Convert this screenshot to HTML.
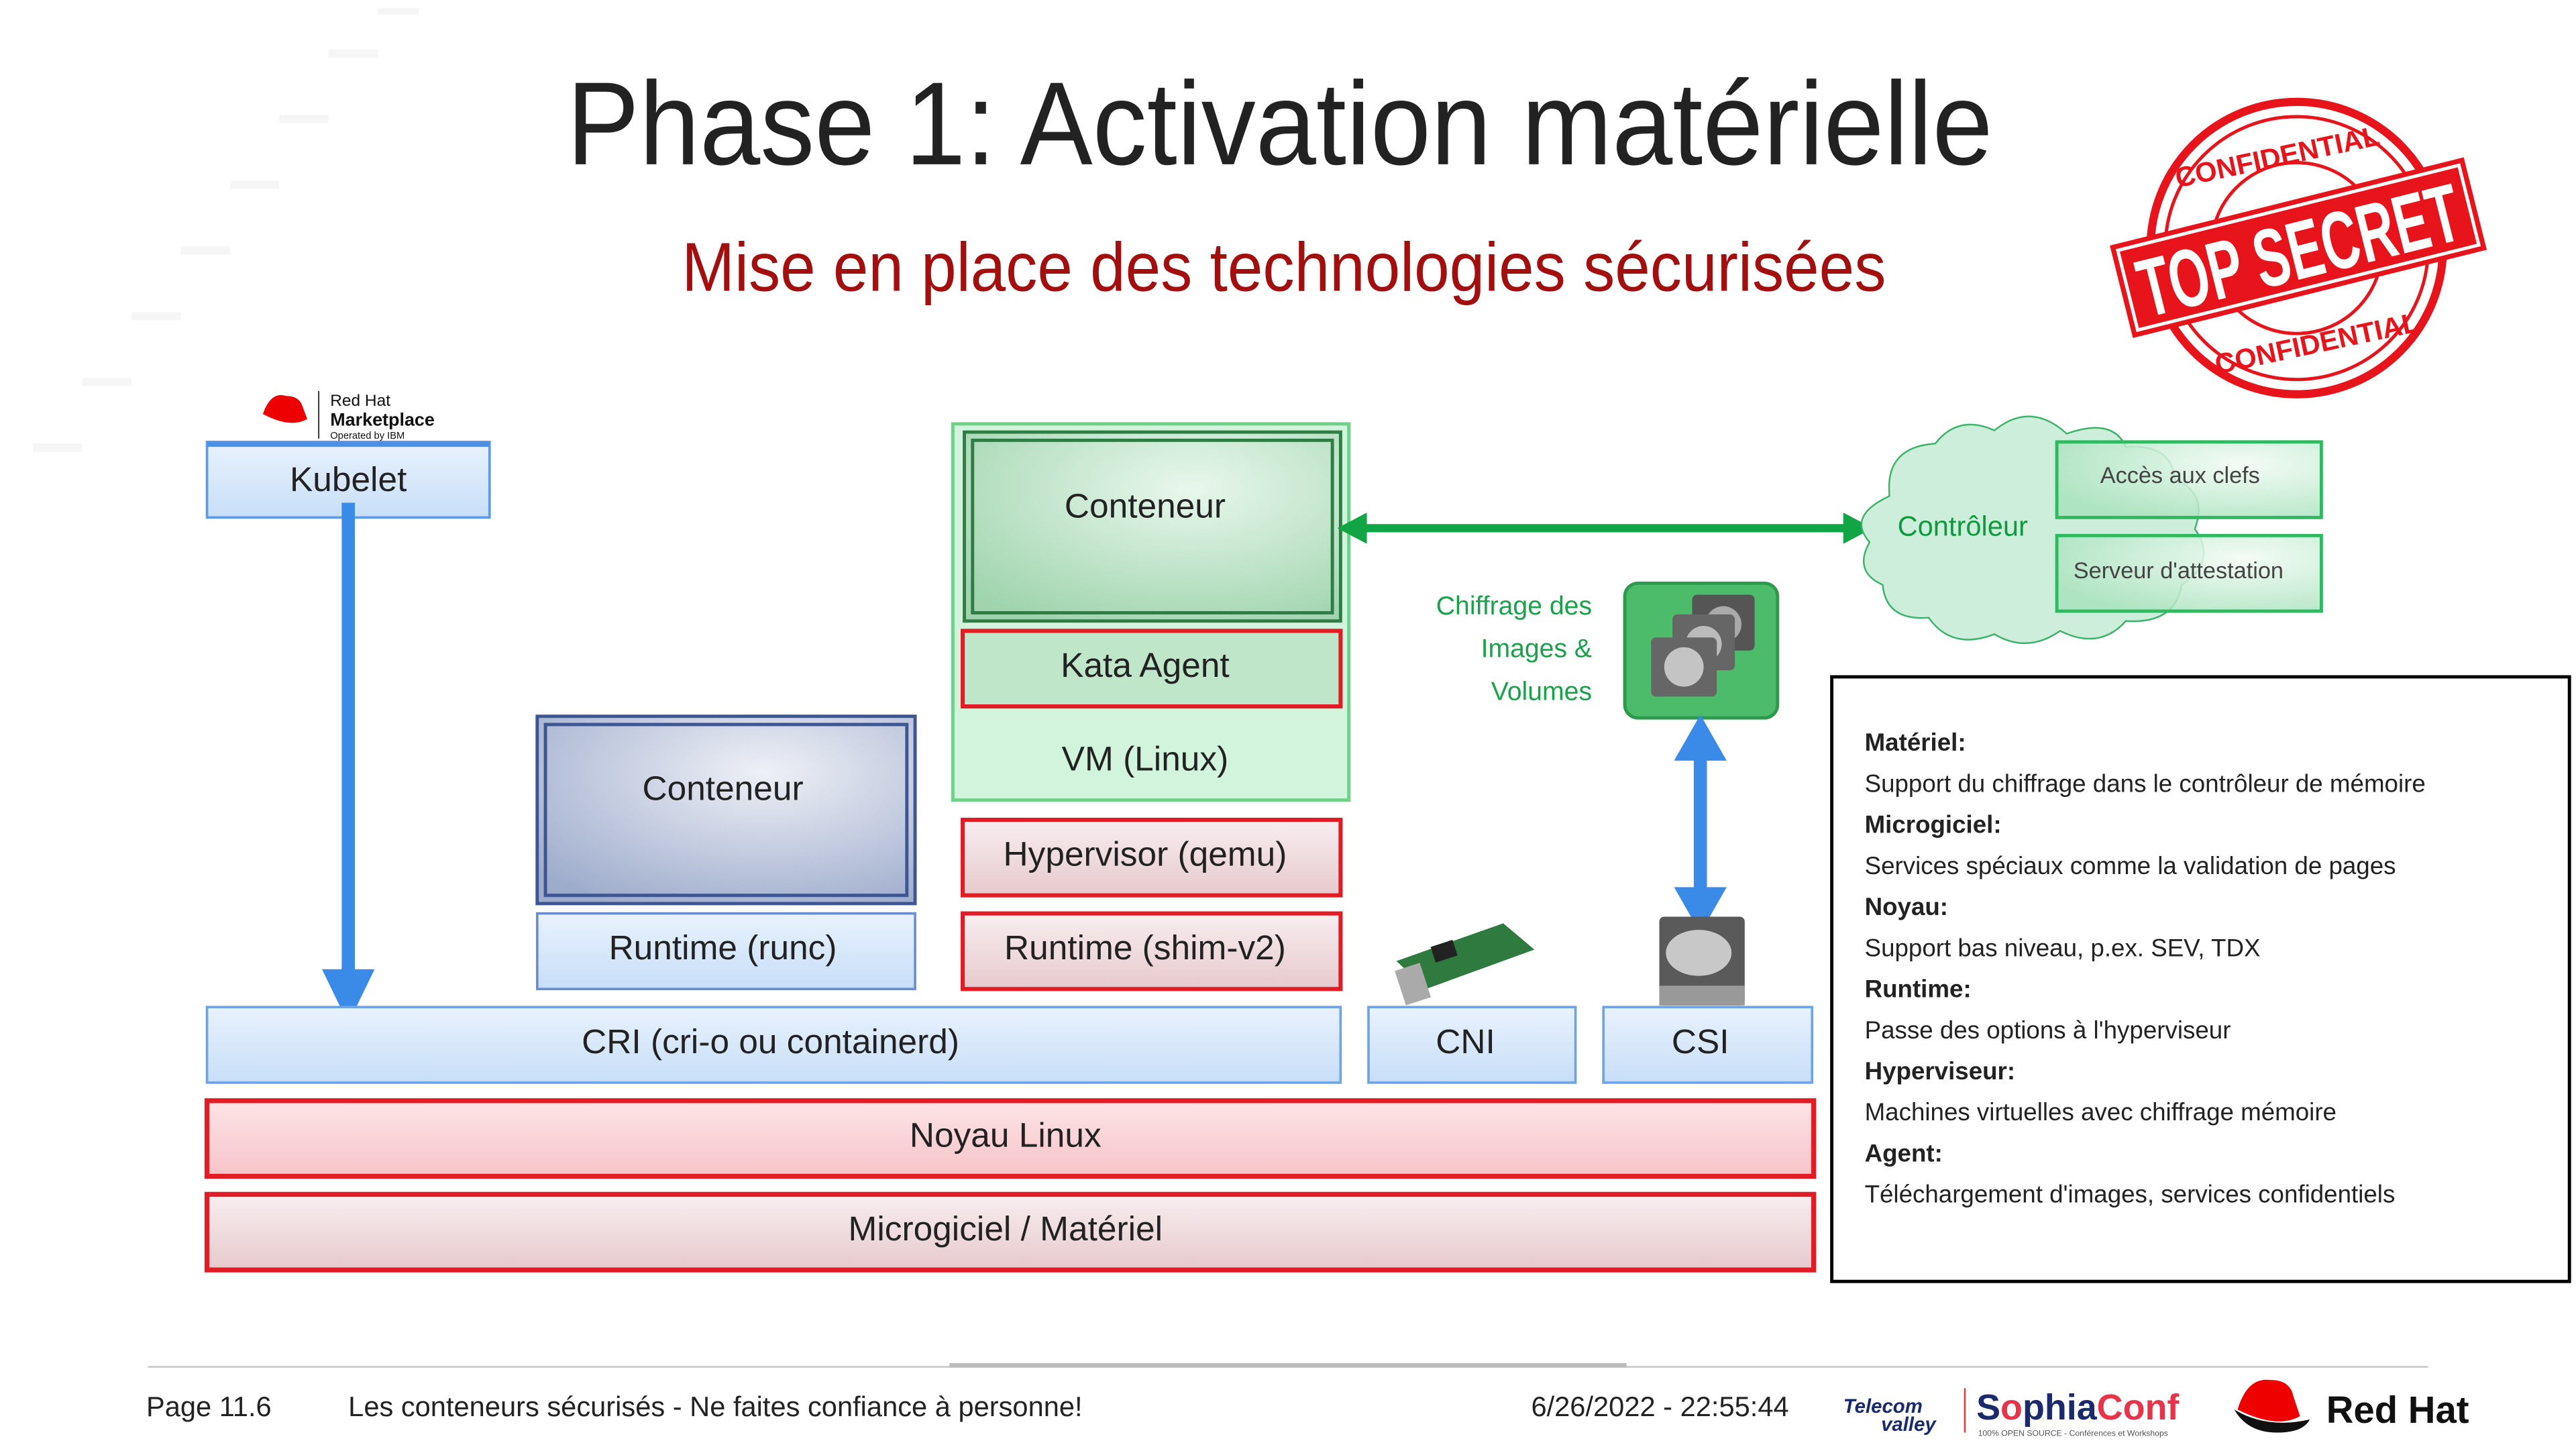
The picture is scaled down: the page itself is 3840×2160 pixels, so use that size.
<!DOCTYPE html>
<html><head><meta charset="utf-8"><style>
html,body{margin:0;padding:0;background:#fff;}
svg{display:block}
text{font-family:"Liberation Sans",sans-serif;}
</style></head><body>
<svg width="3840" height="2160" viewBox="0 0 1568 882" xmlns="http://www.w3.org/2000/svg">
<defs>
<linearGradient id="blu" x1="0" y1="0" x2="0" y2="1"><stop offset="0" stop-color="#e9f2fd"/><stop offset="1" stop-color="#c7def8"/></linearGradient>
<linearGradient id="pnk" x1="0" y1="0" x2="0" y2="1"><stop offset="0" stop-color="#fde4e6"/><stop offset="1" stop-color="#f6c3c8"/></linearGradient>
<linearGradient id="pnk2" x1="0" y1="0" x2="0" y2="1"><stop offset="0" stop-color="#f8eef0"/><stop offset="1" stop-color="#e6c9cc"/></linearGradient>
<radialGradient id="grn" cx="0.6" cy="0.3" r="0.8"><stop offset="0" stop-color="#e8f7ec"/><stop offset="1" stop-color="#9fd4ad"/></radialGradient>
<radialGradient id="gbx" cx="0.7" cy="0.3" r="0.8"><stop offset="0" stop-color="#f2fbf4"/><stop offset="1" stop-color="#a8e2bc"/></radialGradient>
<radialGradient id="bgr" cx="0.6" cy="0.3" r="0.8"><stop offset="0" stop-color="#eef0f6"/><stop offset="1" stop-color="#9eaccc"/></radialGradient>
</defs>
<g fill="#f6f6f6">
<rect x="230" y="5" width="25" height="4"/><rect x="200" y="30" width="30" height="5"/><rect x="170" y="70" width="30" height="5"/><rect x="140" y="110" width="30" height="5"/><rect x="110" y="150" width="30" height="5"/><rect x="80" y="190" width="30" height="5"/><rect x="50" y="230" width="30" height="5"/><rect x="20" y="270" width="30" height="5"/>
</g>
<text x="345" y="100" font-size="72" textLength="868" lengthAdjust="spacingAndGlyphs" fill="#222">Phase 1: Activation matérielle</text>
<text x="415" y="177" font-size="42" textLength="733" lengthAdjust="spacingAndGlyphs" fill="#a30f0f">Mise en place des technologies sécurisées</text>
<g fill="none" stroke="#e8141c">
<circle cx="1398" cy="151" r="89" stroke-width="5"/>
<circle cx="1398" cy="151" r="80" stroke-width="2"/>
<circle cx="1398" cy="151" r="52" stroke-width="2"/>
</g>
<text x="1398" y="100" font-size="17" font-weight="bold" fill="#e8141c" text-anchor="middle" transform="rotate(-12 1398 151)">CONFIDENTIAL</text>
<text x="1398" y="216" font-size="17" font-weight="bold" fill="#e8141c" text-anchor="middle" transform="rotate(-12 1398 151)">CONFIDENTIAL</text>
<g transform="rotate(-14 1398 151)">
<rect x="1288" y="122" width="222" height="58" fill="#e8141c"/>
<rect x="1292" y="126" width="214" height="50" fill="none" stroke="#fff" stroke-width="2"/>
<text x="1399" y="170" font-size="50" font-weight="bold" fill="#fff" text-anchor="middle" textLength="200" lengthAdjust="spacingAndGlyphs">TOP SECRET</text>
</g>
<path d="M160 252 q5 -14 14 -11 q8 0 10 6 l3 8 q-10 6 -27 -3z" fill="#e00"/>
<line x1="194" y1="238" x2="194" y2="267" stroke="#333" stroke-width="0.8"/>
<text x="201" y="247" font-size="10" fill="#111">Red Hat</text>
<text x="201" y="259" font-size="11" font-weight="bold" fill="#111">Marketplace</text>
<text x="201" y="267" font-size="6" fill="#111">Operated by IBM</text>
<rect x="126" y="269" width="172" height="46" fill="url(#blu)" stroke="#5c9ae6" stroke-width="1.5"/>
<rect x="126" y="269" width="172" height="3" fill="#4a8fe8"/>
<text x="212" y="299" font-size="21" text-anchor="middle" fill="#222">Kubelet</text>
<rect x="208" y="306" width="8" height="290" fill="#3a8ae8"/>
<polygon points="196,590 228,590 212,623" fill="#3a8ae8"/>
<rect x="580" y="258" width="241" height="229" fill="#d3f4dc" stroke="#6fd08a" stroke-width="2"/>
<rect x="587" y="263" width="229" height="115" fill="url(#grn)" stroke="#2e7d45" stroke-width="2"/>
<rect x="592" y="268" width="219" height="105" fill="none" stroke="#2e7d45" stroke-width="2"/>
<text x="697" y="315" font-size="21" text-anchor="middle" fill="#222">Conteneur</text>
<rect x="586" y="384" width="230" height="46" fill="#bfe6c8" stroke="#e21c24" stroke-width="2.5"/>
<text x="697" y="412" font-size="21" text-anchor="middle" fill="#222">Kata Agent</text>
<text x="697" y="469" font-size="21" text-anchor="middle" fill="#222">VM (Linux)</text>
<rect x="586" y="499" width="230" height="46" fill="url(#pnk2)" stroke="#e21c24" stroke-width="2.5"/>
<text x="697" y="527" font-size="21" text-anchor="middle" fill="#222">Hypervisor (qemu)</text>
<rect x="586" y="556" width="230" height="46" fill="url(#pnk2)" stroke="#e21c24" stroke-width="2.5"/>
<text x="697" y="584" font-size="21" text-anchor="middle" fill="#222">Runtime (shim-v2)</text>
<rect x="327" y="436" width="230" height="114" fill="url(#bgr)" stroke="#3e5593" stroke-width="2"/>
<rect x="332" y="441" width="220" height="104" fill="none" stroke="#3e5593" stroke-width="2"/>
<text x="440" y="487" font-size="21" text-anchor="middle" fill="#222">Conteneur</text>
<rect x="327" y="556" width="230" height="46" fill="url(#blu)" stroke="#6a8fd0" stroke-width="1.5"/>
<text x="440" y="584" font-size="21" text-anchor="middle" fill="#222">Runtime (runc)</text>
<rect x="126" y="613" width="690" height="46" fill="url(#blu)" stroke="#6ea4e6" stroke-width="1.5"/>
<text x="469" y="641" font-size="21" text-anchor="middle" fill="#222">CRI (cri-o ou containerd)</text>
<rect x="833" y="613" width="126" height="46" fill="url(#blu)" stroke="#6ea4e6" stroke-width="1.5"/>
<text x="892" y="641" font-size="21" text-anchor="middle" fill="#222">CNI</text>
<rect x="976" y="613" width="127" height="46" fill="url(#blu)" stroke="#6ea4e6" stroke-width="1.5"/>
<text x="1035" y="641" font-size="21" text-anchor="middle" fill="#222">CSI</text>
<rect x="126" y="670" width="978" height="46" fill="url(#pnk)" stroke="#e21c24" stroke-width="3"/>
<text x="612" y="698" font-size="21" text-anchor="middle" fill="#222">Noyau Linux</text>
<rect x="126" y="727" width="978" height="46" fill="url(#pnk2)" stroke="#e21c24" stroke-width="3"/>
<text x="612" y="755" font-size="21" text-anchor="middle" fill="#222">Microgiciel / Matériel</text>
<rect x="828" y="319" width="298" height="5" fill="#12a545"/>
<polygon points="814,321.5 832,312 832,331" fill="#12a545"/>
<polygon points="1140,321.5 1122,312 1122,331" fill="#12a545"/>
<path d="M1150 300 q-2 -28 28 -30 q14 -18 36 -8 q22 -18 44 2 q28 -10 36 8 q28 -2 30 20 q20 8 12 30 q14 20 -8 34 q-4 24 -34 22 q-16 18 -40 6 q-20 14 -40 2 q-26 10 -40 -10 q-26 2 -28 -20 q-18 -8 -8 -26 q-14 -16 12 -28z" fill="#cdeedb" stroke="#3cb36a" stroke-width="1"/>
<text x="1155" y="326" font-size="17" fill="#109a40">Contrôleur</text>
<rect x="1252" y="269" width="161" height="46" fill="url(#gbx)" fill-opacity="0.85" stroke="#2fba62" stroke-width="2"/>
<text x="1327" y="294" font-size="14" text-anchor="middle" fill="#444">Accès aux clefs</text>
<rect x="1252" y="326" width="161" height="46" fill="url(#gbx)" fill-opacity="0.85" stroke="#2fba62" stroke-width="2"/>
<text x="1326" y="352" font-size="14" text-anchor="middle" fill="#444">Serveur d'attestation</text>
<g font-size="16" fill="#16a34a" text-anchor="end">
<text x="969" y="374">Chiffrage des</text>
<text x="969" y="400">Images &amp;</text>
<text x="969" y="426">Volumes</text>
</g>
<rect x="989" y="355" width="93" height="82" rx="8" fill="#4cbb6a" stroke="#2e9a4e" stroke-width="2"/>
<g>
<rect x="1030" y="362" width="38" height="34" rx="3" fill="#555"/><circle cx="1049" cy="380" r="11" fill="#aaa"/>
<rect x="1018" y="374" width="38" height="34" rx="3" fill="#666"/><circle cx="1037" cy="392" r="11" fill="#bbb"/>
<rect x="1005" y="388" width="40" height="36" rx="3" fill="#666"/><circle cx="1025" cy="406" r="12" fill="#c4c4c4"/>
</g>
<rect x="1031" y="458" width="8" height="90" fill="#3a8ae8"/>
<polygon points="1035,435 1019,463 1051,463" fill="#3a8ae8"/>
<polygon points="1035,568 1019,540 1051,540" fill="#3a8ae8"/>
<rect x="1010" y="558" width="52" height="54" rx="3" fill="#5a5a5a"/>
<ellipse cx="1034" cy="580" rx="20" ry="14" fill="#c8c8c8"/>
<rect x="1010" y="600" width="52" height="12" fill="#999"/>
<polygon points="850,585 915,562 934,578 868,602" fill="#2f7a3e"/>
<rect x="872" y="574" width="14" height="10" fill="#222" transform="rotate(-18 879 579)"/>
<rect x="852" y="588" width="16" height="22" fill="#aaa" transform="rotate(-18 860 599)"/>
<rect x="1115" y="412" width="449" height="368" fill="#fff" stroke="#000" stroke-width="2"/>
<g font-size="15" fill="#222">
<text x="1135" y="457" font-weight="bold">Matériel:</text>
<text x="1135" y="482">Support du chiffrage dans le contrôleur de mémoire</text>
<text x="1135" y="507" font-weight="bold">Microgiciel:</text>
<text x="1135" y="532">Services spéciaux comme la validation de pages</text>
<text x="1135" y="557" font-weight="bold">Noyau:</text>
<text x="1135" y="582">Support bas niveau, p.ex. SEV, TDX</text>
<text x="1135" y="607" font-weight="bold">Runtime:</text>
<text x="1135" y="632">Passe des options à l'hyperviseur</text>
<text x="1135" y="657" font-weight="bold">Hyperviseur:</text>
<text x="1135" y="682">Machines virtuelles avec chiffrage mémoire</text>
<text x="1135" y="707" font-weight="bold">Agent:</text>
<text x="1135" y="732">Téléchargement d'images, services confidentiels</text>
</g>
<line x1="90" y1="832" x2="1478" y2="832" stroke="#ccc" stroke-width="1.2"/>
<line x1="578" y1="831" x2="990" y2="831" stroke="#bbb" stroke-width="2.5"/>
<g font-size="17" fill="#222">
<text x="89" y="862">Page 11.6</text>
<text x="212" y="862">Les conteneurs sécurisés - Ne faites confiance à personne!</text>
<text x="932" y="862">6/26/2022 - 22:55:44</text>
</g>
<text x="1122" y="860" font-size="12" font-style="italic" font-weight="bold" fill="#1a2a6a">Telecom</text>
<text x="1145" y="871" font-size="12" font-style="italic" font-weight="bold" fill="#1a2a6a">valley</text>
<line x1="1196" y1="845" x2="1196" y2="872" stroke="#e33" stroke-width="1"/>
<text x="1203" y="864" font-size="22" font-weight="bold" fill="#1a2a6a">S<tspan fill="#e8344a">o</tspan>phia<tspan fill="#e8344a">Conf</tspan></text>
<text x="1204" y="874" font-size="5" fill="#555">100% OPEN SOURCE - Conférences et Workshops</text>
<path d="M1362 858 q6 -20 20 -18 q12 0 14 10 l4 12 q-14 8 -38 -4z" fill="#e00"/>
<path d="M1360 858 q20 12 46 6 q-4 8 -20 8 q-18 0 -26 -14z" fill="#111"/>
<text x="1416" y="866" font-size="23" font-weight="bold" fill="#111">Red Hat</text>
</svg>
</body></html>
